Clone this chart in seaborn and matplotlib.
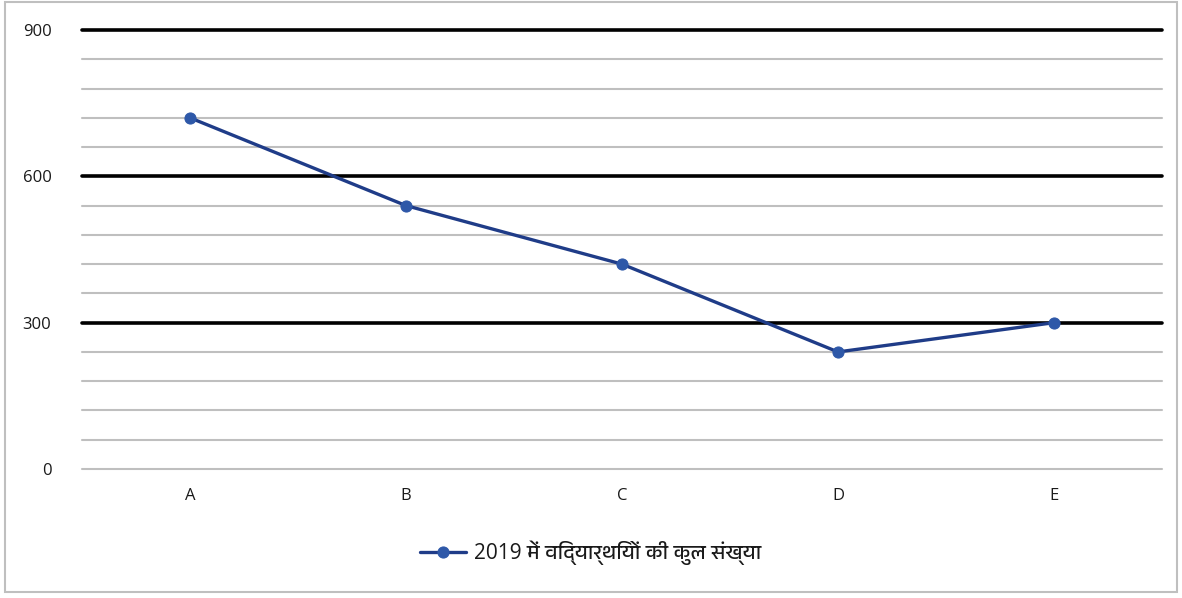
import matplotlib
matplotlib.use("Agg")
import matplotlib.pyplot as plt
from matplotlib import font_manager
from matplotlib.patches import Rectangle
import seaborn as sns
import pandas as pd

categories = ["A", "B", "C", "D", "E"]
values = [720, 540, 420, 240, 300]
series_label = "2019 में विद्यार्थियों की कुल संख्या"
yticks = [0, 300, 600, 900]

sns.set_theme(style="white")
fams = sorted({f.name for f in font_manager.fontManager.ttflist})
deva = [f for f in fams if "Devanagari" in f or "Lohit" in f or "Mukta" in f or "Hind" in f]
plt.rcParams["font.family"] = ["Open Sans"] + deva + ["DejaVu Sans"]

df = pd.DataFrame({"cat": categories, "val": values, "series": series_label})

fig = plt.figure(figsize=(11.82, 5.98), dpi=100)
ax = fig.add_axes([82/1182, 1-469/598, 1080/1182, 439/598])

# gridlines
for y in range(0, 901, 60):
    if y in (300, 600, 900):
        ax.axhline(y, color="black", lw=2.6, zorder=1, clip_on=False)
    else:
        ax.axhline(y, color="#BFBFBF", lw=1.5, zorder=1, clip_on=False)

sns.lineplot(data=df, x="cat", y="val", hue="series", palette=["#1F3C88"],
             marker="o", markersize=8, markerfacecolor="#2E58A8",
             markeredgecolor="#2E58A8", linewidth=2.4, ax=ax, zorder=3, sort=False)

ax.set_xlim(-0.5, 4.5)
ax.set_ylim(0, 900)
ax.set_yticks(yticks)
ax.set_yticklabels([str(t) for t in yticks])
ax.set_xlabel("")
ax.set_ylabel("")
for s in ax.spines.values():
    s.set_visible(False)
ax.tick_params(axis="both", length=0, labelsize=12, colors="#1a1a1a")
ax.tick_params(axis="y", pad=22)
ax.tick_params(axis="x", pad=14)

handles, labels = ax.get_legend_handles_labels()
ax.get_legend().remove()
fig.legend(handles, labels, loc="center", bbox_to_anchor=(0.5, 1-553/598),
           frameon=False, fontsize=15, handlelength=2.2, handletextpad=0.4,
           labelcolor="#1a1a1a")

fig.patches.append(Rectangle((5/1182, 6/598), 1172/1182, 590/598, transform=fig.transFigure,
                             fill=False, edgecolor="#BFBFBF", lw=1.5))

fig.savefig("out.png", dpi=100)
